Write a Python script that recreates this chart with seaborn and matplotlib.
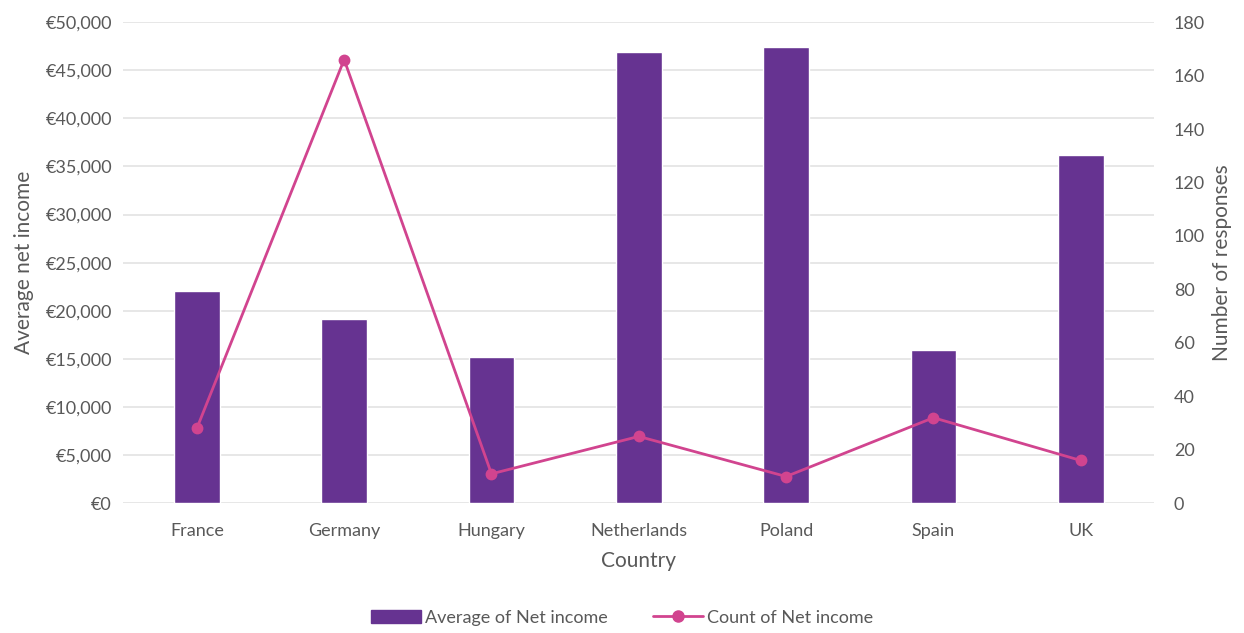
import numpy as np
import pandas as pd
import seaborn as sns
import matplotlib.pyplot as plt
from matplotlib.ticker import FuncFormatter, MultipleLocator

countries = ["France", "Germany", "Hungary", "Netherlands", "Poland", "Spain", "UK"]
avg_income = [22100, 19100, 15200, 46900, 47400, 15900, 36200]
n_responses = [28, 166, 11, 25, 10, 32, 16]

bar_color = "#663391"
line_color = "#d1448f"
text_color = "#595959"

sns.set_style("white")
plt.rcParams["font.family"] = ["Lato", "DejaVu Sans"]

df = pd.DataFrame({"Country": countries, "income": avg_income, "count": n_responses})

fig = plt.figure(figsize=(12.44, 6.33), dpi=100)
ax = fig.add_axes([0.099, 0.205, 0.829, 0.76])

sns.barplot(data=df, x="Country", y="income", color=bar_color, width=0.31,
            saturation=1, ax=ax, zorder=2)
ax.set_ylim(0, 50000)
ax.yaxis.set_major_locator(MultipleLocator(5000))
ax.yaxis.set_major_formatter(FuncFormatter(lambda v, p: "€{:,.0f}".format(v)))
ax.grid(axis="y", color="#e3e3e3", linewidth=1.2, zorder=0)
ax.set_axisbelow(True)

ax2 = ax.twinx()
sns.pointplot(data=df, x="Country", y="count", color=line_color, ax=ax2,
              markers="o", markersize=7, linewidth=2)
ax2.set_ylim(0, 180)
ax2.yaxis.set_major_locator(MultipleLocator(20))
ax.set_xlim(-0.5, 6.5)
ax2.set_xlim(-0.5, 6.5)

for a in (ax, ax2):
    for s in a.spines.values():
        s.set_visible(False)
    a.tick_params(length=0, labelsize=13, colors=text_color, pad=8)
ax.tick_params(axis="x", pad=14)
ax2.tick_params(axis="y", pad=14)

ax.set_xlabel("Country", fontsize=15, color=text_color, labelpad=9)
ax.set_ylabel("Average net income", fontsize=15, color=text_color, labelpad=8)
ax2.set_ylabel("Number of responses", fontsize=15, color=text_color, labelpad=5)

handles = [
    plt.Rectangle((0, 0), 1, 1, color=bar_color),
    plt.Line2D([0], [0], color=line_color, lw=2, marker="o", markersize=8),
]
fig.legend(handles, ["Average of Net income", "Count of Net income"],
           loc="center", bbox_to_anchor=(0.5, 0.024), ncol=2, frameon=False,
           fontsize=13, labelcolor=text_color, handlelength=2.8,
           handletextpad=0.2, columnspacing=2.5)

fig.savefig("out.png", dpi=100)
